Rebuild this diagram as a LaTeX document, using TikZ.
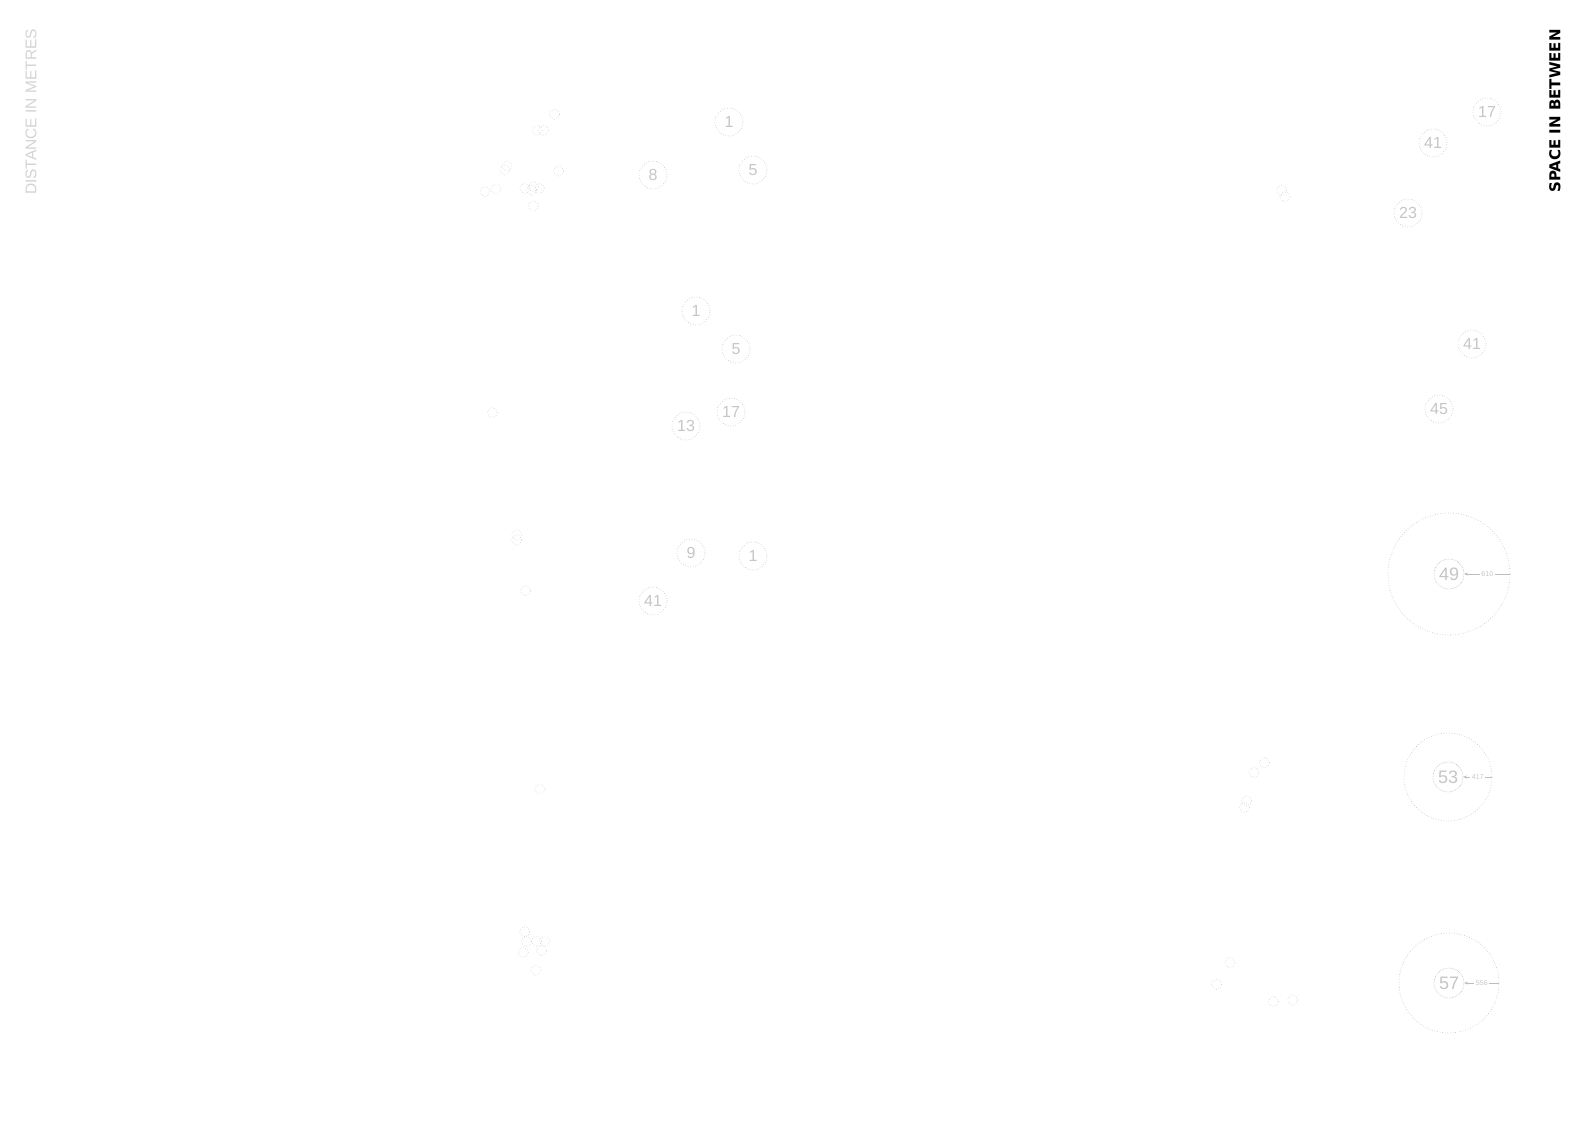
\documentclass[tikz,border=0pt]{standalone}
\usepackage{fontspec}
\setmainfont{Liberation Sans}
\newfontfamily\headfont{DejaVu Sans}
\usetikzlibrary{arrows.meta,positioning}
\definecolor{ringgray}{HTML}{BCBCBC}
\definecolor{numgray}{HTML}{C6C6C6}
\definecolor{sidegray}{HTML}{D4D4D4}

\begin{document}
\begin{tikzpicture}[x=1pt, y=-1pt,
      every node/.style={font=\fontsize{16}{16}\selectfont, text=numgray},
      stop/.style={circle, draw=ringgray, dotted, line width=0.6pt, minimum size=28pt, inner sep=0pt},
      core/.style={circle, draw=ringgray, densely dotted, line width=0.6pt, minimum size=30pt, inner sep=0pt, font=\fontsize{18}{18}\selectfont},
      spot/.style={circle, draw=ringgray, dotted, line width=0.5pt, minimum size=10pt, inner sep=0pt},
      ring/.style={circle, draw=ringgray, dotted, line width=0.6pt, inner sep=0pt},
      measure/.style={-{Stealth[length=3.5pt, width=3pt]}, draw=ringgray, line width=0.5pt},
      gap/.style={fill=white, inner sep=1.5pt, font=\fontsize{7}{7}\selectfont}
  ]
    \fill[white] (0,0) rectangle (1587,1123);
    \useasboundingbox (0,0) rectangle (1587,1123);

    % titles
    \node[rotate=90, text=black, font=\headfont\bfseries\fontsize{15}{15}\selectfont] (title) at (1555,111) {SPACE IN BETWEEN};
    \node[rotate=90, text=sidegray, font=\fontsize{15.5}{15.5}\selectfont] (side) at (31,112) {DISTANCE IN METRES};

    % single visits
    \foreach \x/\y [count=\i] in {554.7/114.3, 537.3/130.3, 543.3/130.3, 505/170, 507/166, 558.7/171,
        485/191.7, 496/189, 525/188.3, 533.3/186.7, 539.3/188.3, 531.7/190, 533.3/206,
        492.3/412.7, 516.7/540, 517/535, 525.7/590.7, 540/789,
        524.7/931.7, 526.7/941.7, 536.7/941, 545/941, 523.3/952.3, 541.7/950.7, 536/970,
        1281.7/190, 1285/196.7, 1264.3/762.7, 1254/772.3, 1246.7/801, 1244.3/807.3,
        1230/962.7, 1216.7/984.3, 1273.3/1001.7, 1292.7/1000}
      \node[spot] (p\i) at (\x,\y) {};

    % numbered stops, left
    \node[stop] (w1) at (729,122) {1};
    \node[stop] (w2) at (653,175) {8};
    \node[stop] (w3) at (753,170) {5};
    \node[stop] (w4) at (696,311) {1};
    \node[stop] (w5) at (736,349) {5};
    \node[stop] (w6) at (731,412) {17};
    \node[stop] (w7) at (686,426) {13};
    \node[stop] (w8) at (691,553) {9};
    \node[stop] (w9) at (753,556) {1};
    \node[stop] (w10) at (653,601) {41};

    % numbered stops, right
    \node[stop] (e1) at (1487,112) {17};
    \node[stop] (e2) at (1433,143) {41};
    \node[stop] (e3) at (1408,213) {23};
    \node[stop] (e4) at (1472,344) {41};
    \node[stop] (e5) at (1439,409) {45};

    % rings with distance
    \node[ring, minimum size=122pt] (ring610) at (1449,574) {};
    \node[core] (c49) at (1449,574) {49};
    \draw[measure] (ring610.east) -- node[gap] (d610) {610} (c49.east);

    \node[ring, minimum size=88pt] (ring417) at (1448,777) {};
    \node[core] (c53) at (1448,777) {53};
    \draw[measure] (ring417.east) -- node[gap] (d417) {417} (c53.east);

    \node[ring, minimum size=100pt] (ring556) at (1449,983) {};
    \node[core] (c57) at (1449,983) {57};
    \draw[measure] (ring556.east) -- node[gap] (d556) {556} (c57.east);
  \end{tikzpicture}
\end{document}
